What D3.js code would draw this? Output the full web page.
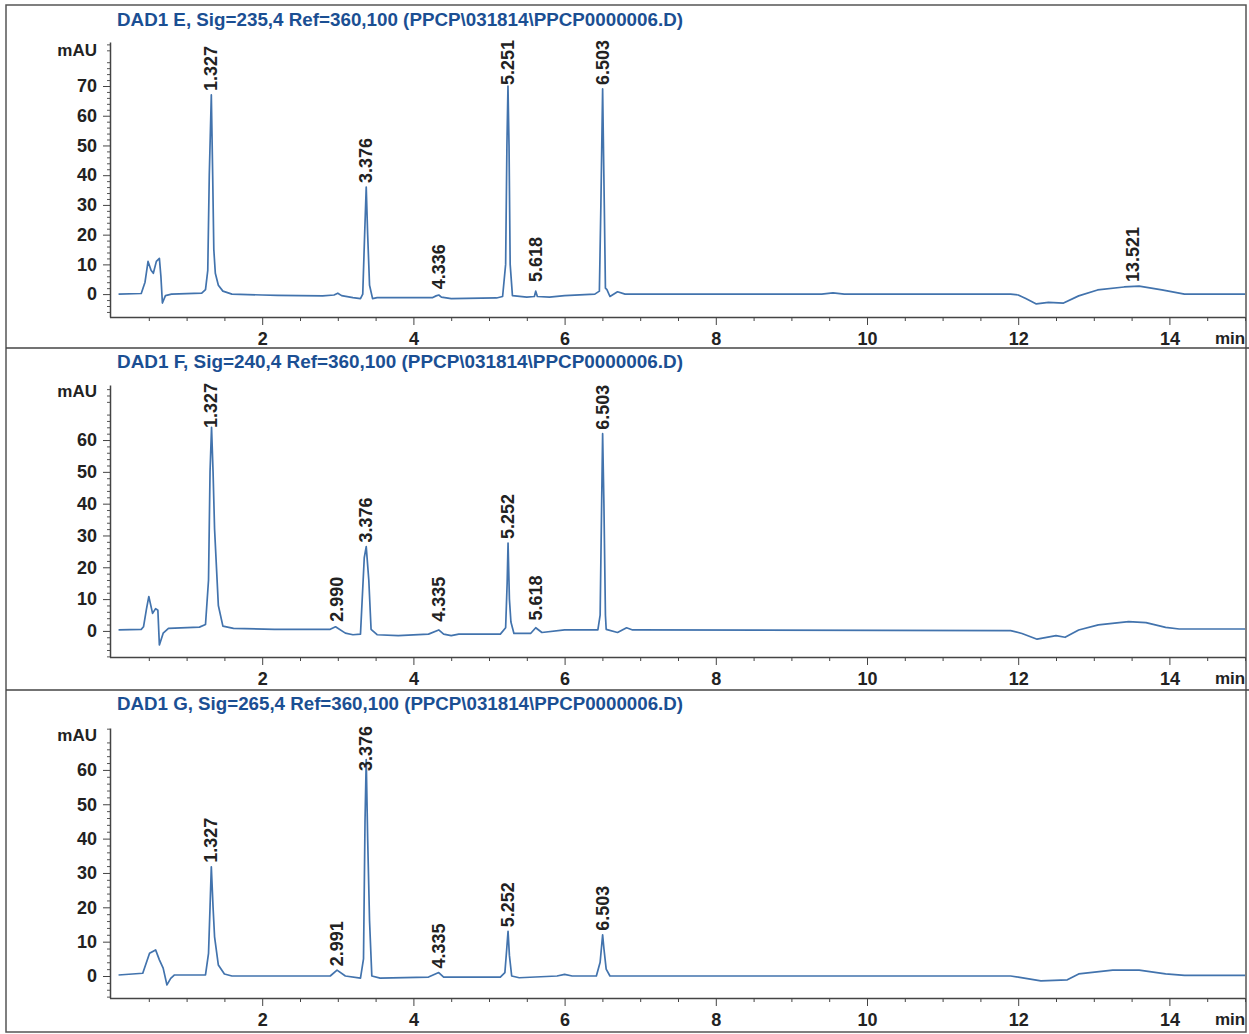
<!DOCTYPE html>
<html><head><meta charset="utf-8">
<script src="https://cdn.jsdelivr.net/npm/d3@7/dist/d3.min.js"></script>
<style>
html,body{margin:0;padding:0;background:#fff;}
svg{display:block;}
.tick text{font-family:"Liberation Sans",Arial,sans-serif;font-weight:bold;font-size:18px;fill:#222;}
</style></head>
<body>
<svg id="chart" width="1249" height="1034"></svg>
<script>
// ---------------- DATA ----------------
const titles = [
  "DAD1 E, Sig=235,4 Ref=360,100 (PPCP\\031814\\PPCP0000006.D)",
  "DAD1 F, Sig=240,4 Ref=360,100 (PPCP\\031814\\PPCP0000006.D)",
  "DAD1 G, Sig=265,4 Ref=360,100 (PPCP\\031814\\PPCP0000006.D)"
];
const xTicks = [2, 4, 6, 8, 10, 12, 14];
const yTicksE = [0, 10, 20, 30, 40, 50, 60, 70];
const yTicksF = [0, 10, 20, 30, 40, 50, 60];
const yTicksG = [0, 10, 20, 30, 40, 50, 60];
const yUnit = "mAU";
const xUnit = "min";

// [time (min), signal (mAU)]
const traceE = [[0.10,0],[0.40,0.2],[0.45,4],[0.49,11],[0.53,8],[0.56,7],[0.60,11],[0.64,12],[0.66,6],[0.68,-3],[0.72,-0.5],[0.80,0],[1.20,0.3],[1.25,1.5],[1.28,8],[1.30,40],[1.327,67],[1.345,40],[1.36,15],[1.38,7],[1.42,3],[1.48,1],[1.60,0],[2.00,-0.3],[2.20,-0.4],[2.80,-0.6],[2.95,-0.3],[3.00,0.3],[3.05,-0.5],[3.20,-1.2],[3.30,-1.5],[3.33,0],[3.355,20],[3.376,36],[3.395,20],[3.42,3],[3.46,-1.5],[3.52,-1.2],[4.25,-1.2],[4.30,-0.6],[4.336,-0.3],[4.37,-1],[4.50,-1.5],[5.10,-1.3],[5.18,-0.8],[5.22,10],[5.237,50],[5.251,70],[5.265,50],[5.28,10],[5.31,-0.5],[5.50,-1],[5.60,-0.8],[5.618,1],[5.64,-0.8],[5.80,-1],[6.00,-0.5],[6.40,0],[6.46,1],[6.48,30],[6.503,69],[6.525,30],[6.54,2],[6.56,1.5],[6.60,-0.8],[6.70,0.8],[6.80,0],[9.40,0],[9.55,0.4],[9.70,0],[11.90,0],[12.00,-0.3],[12.10,-1.5],[12.24,-3.3],[12.40,-2.8],[12.60,-3],[12.80,-0.6],[13.05,1.4],[13.40,2.4],[13.60,2.7],[13.90,1.4],[14.20,0],[15.00,0]];
const traceF = [[0.10,0.3],[0.40,0.5],[0.43,1.3],[0.47,7],[0.50,10.8],[0.55,5.5],[0.59,7],[0.62,6.5],[0.64,-4.4],[0.69,-0.7],[0.76,0.8],[1.17,1.2],[1.25,2],[1.29,16],[1.31,50],[1.33,64],[1.35,50],[1.37,32],[1.42,8],[1.48,1.5],[1.62,0.8],[2.16,0.5],[2.90,0.5],[2.97,1.3],[3.10,-0.7],[3.20,-1.2],[3.30,-1],[3.35,23],[3.376,26.5],[3.41,16],[3.44,0.5],[3.52,-1.2],[3.80,-1.5],[4.20,-1],[4.335,0.3],[4.40,-1],[4.50,-1.5],[4.60,-1],[5.15,-1],[5.22,1],[5.24,15],[5.252,27.6],[5.27,10],[5.29,2.8],[5.33,-0.8],[5.55,-0.8],[5.618,1],[5.70,-0.5],[6.00,0.3],[6.44,0.3],[6.47,5],[6.49,40],[6.503,62],[6.52,40],[6.54,5],[6.55,0.5],[6.70,-0.5],[6.82,1],[6.90,0.3],[11.90,0.1],[12.05,-0.8],[12.25,-2.6],[12.50,-1.5],[12.62,-2],[12.80,0.3],[13.06,1.9],[13.46,2.9],[13.69,2.6],[13.95,1.1],[14.13,0.6],[15.00,0.6]];
const traceG = [[0.10,0.3],[0.42,0.8],[0.51,6.6],[0.59,7.6],[0.64,4.7],[0.69,2.3],[0.74,-2.6],[0.79,-0.7],[0.84,0.3],[1.25,0.3],[1.29,6.6],[1.31,20],[1.327,31.8],[1.35,20],[1.37,11.4],[1.42,3.2],[1.50,0.6],[1.60,0],[2.90,0],[2.99,1.7],[3.10,0],[3.30,-0.6],[3.34,5],[3.36,45],[3.376,63],[3.395,40],[3.42,16],[3.45,0],[3.56,-0.6],[4.20,-0.3],[4.335,1],[4.40,-0.3],[5.15,-0.3],[5.21,1],[5.235,8],[5.252,13],[5.27,6],[5.30,0],[5.40,-0.5],[5.90,0],[6.00,0.5],[6.10,0],[6.42,0],[6.47,4],[6.503,12],[6.52,8],[6.55,2],[6.60,0],[11.90,0],[12.00,-0.3],[12.30,-1.4],[12.65,-1.1],[12.80,0.6],[13.25,1.7],[13.60,1.7],[13.95,0.6],[14.20,0.2],[15.00,0.2]];

// peak labels: [retention time, label, apex height mAU]
const peaksE = [[1.327,"1.327",67],[3.376,"3.376",36],[4.336,"4.336",0.3],[5.251,"5.251",70],[5.618,"5.618",2.7],[6.503,"6.503",69],[13.521,"13.521",2.7]];
const peaksF = [[1.327,"1.327",64],[2.990,"2.990",1.6],[3.376,"3.376",26.5],[4.335,"4.335",1.6],[5.252,"5.252",27.6],[5.618,"5.618",2],[6.503,"6.503",62]];
const peaksG = [[1.327,"1.327",31.8],[2.991,"2.991",1.7],[3.376,"3.376",63],[4.335,"4.335",1],[5.252,"5.252",13],[6.503,"6.503",12]];

// ---------------- LAYOUT ----------------
const svg = d3.select("#chart");
const W = 1249, H = 1034;
const xLeft = 111, xRight = 1245;
const panels = [
  {title: titles[0], trace: traceE, peaks: peaksE, yTicks: yTicksE, top: 42,  bottom: 317, yDom: [-7.7, 84.8], titleY: 25,  mauY: 50},
  {title: titles[1], trace: traceF, peaks: peaksF, yTicks: yTicksF, top: 385, bottom: 657, yDom: [-8.2, 77.3], titleY: 367, mauY: 391},
  {title: titles[2], trace: traceG, peaks: peaksG, yTicks: yTicksG, top: 728, bottom: 998, yDom: [-6.4, 72.2], titleY: 709, mauY: 735}
];

const font = '"Liberation Sans", Arial, sans-serif';
const lineColor = "#4273ad";

// frame and separators
svg.append("rect").attr("x", 6).attr("y", 5).attr("width", 1240).attr("height", 1027)
  .attr("fill", "none").attr("stroke", "#555").attr("stroke-width", 1.5);
[348, 690].forEach(yy => svg.append("line").attr("x1", 6).attr("x2", W).attr("y1", yy).attr("y2", yy)
  .attr("stroke", "#444").attr("stroke-width", 1.5));

const x = d3.scaleLinear().domain([0, 15]).range([xLeft, xRight]);

panels.forEach(p => {
  const g = svg.append("g");
  const y = d3.scaleLinear().domain(p.yDom).range([p.bottom, p.top]);

  // title
  g.append("text").attr("x", 117).attr("y", p.titleY + 1).text(p.title)
    .attr("font-family", font).attr("font-weight", "bold").attr("font-size", 18)
    .attr("fill", "#1b4f93").attr("textLength", 566).attr("lengthAdjust", "spacingAndGlyphs");

  // x axis minor
  const xMinor = d3.range(0.5, 15.01, 0.5).filter(v => xTicks.indexOf(v) < 0);
  g.append("g").attr("transform", `translate(0,${p.bottom})`)
    .call(d3.axisBottom(x).tickValues(xMinor).tickSize(4).tickFormat(""))
    .call(s => s.select(".domain").remove())
    .selectAll("line").attr("stroke", "#444");
  const xa = g.append("g").attr("transform", `translate(0,${p.bottom})`)
    .call(d3.axisBottom(x).tickValues(xTicks).tickSize(8).tickPadding(7).tickFormat(d3.format("d")).tickSizeOuter(0));
  xa.select(".domain").attr("stroke", "#444").attr("stroke-width", 1.5).attr("d", `M${xLeft - 1},0.5H${xRight}`);
  xa.selectAll("line").attr("stroke", "#444");

  // y axis minor
  const yMinor = d3.range(Math.ceil(p.yDom[0] / 2) * 2, p.yDom[1], 2).filter(v => v % 10 !== 0);
  g.append("g").attr("transform", `translate(${xLeft - 1},0)`)
    .call(d3.axisLeft(y).tickValues(yMinor).tickSize(3).tickFormat(""))
    .call(s => s.select(".domain").remove())
    .selectAll("line").attr("stroke", "#555");
  const ya = g.append("g").attr("transform", `translate(${xLeft - 1},0)`)
    .call(d3.axisLeft(y).tickValues(p.yTicks).tickSize(7).tickPadding(6).tickSizeOuter(0));
  ya.select(".domain").attr("stroke", "#444").attr("stroke-width", 1.5);
  ya.selectAll("line").attr("stroke", "#444");

  // units
  g.append("text").attr("x", 97).attr("y", p.mauY).attr("dy", "0.35em").attr("text-anchor", "end")
    .text(yUnit).attr("font-family", font).attr("font-weight", "bold").attr("font-size", 17).attr("fill", "#222");
  g.append("text").attr("x", 1230).attr("y", p.bottom + 21).attr("dy", "0.35em").attr("text-anchor", "middle")
    .text(xUnit).attr("font-family", font).attr("font-weight", "bold").attr("font-size", 17).attr("fill", "#222");

  // trace
  const line = d3.line().x(d => x(d[0])).y(d => y(d[1]));
  g.append("path").datum(p.trace).attr("d", line).attr("fill", "none")
    .attr("stroke", lineColor).attr("stroke-width", 1.7).attr("stroke-linejoin", "round");

  // peak labels
  p.peaks.forEach(pk => {
    const t = g.append("text").text(pk[1])
      .attr("font-family", font).attr("font-weight", "bold").attr("font-size", 18).attr("fill", "#222")
      .attr("text-anchor", "start").attr("dominant-baseline", "central");
    const len = t.node().getComputedTextLength();
    let base = y(pk[2]) - 4;
    if (base - len < p.top - 2) base = p.top - 2 + len;
    t.attr("transform", `translate(${x(pk[0])},${base}) rotate(-90)`);
  });
});
</script>
</body></html>
